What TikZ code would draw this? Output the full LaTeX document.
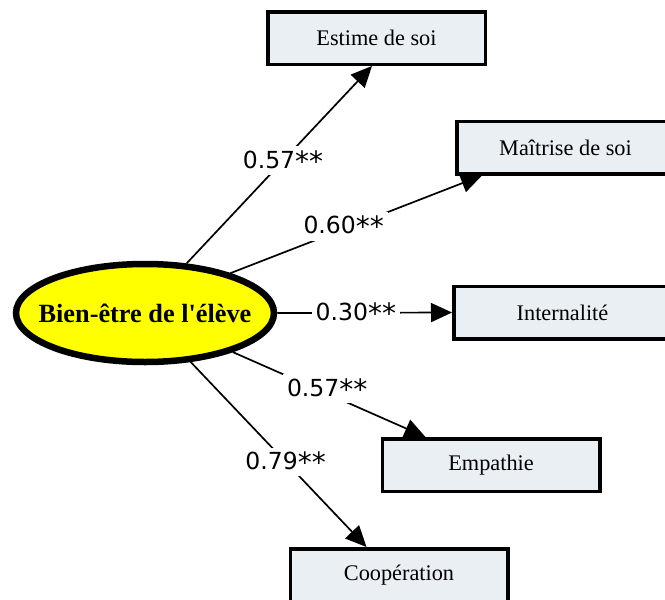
\documentclass[tikz,border=0pt]{standalone}
\usepackage{fontspec}
\setmainfont{Liberation Serif}
\newfontfamily\lblfont{DejaVu Sans}
\usetikzlibrary{arrows.meta,shapes.geometric}
\definecolor{boxfill}{HTML}{E9EFF3}
\definecolor{yel}{HTML}{FFFF00}
\newcommand{\stars}{\raisebox{-3pt}{\fontsize{28}{26}\selectfont **}}
\tikzset{
  x=1pt, y=-1pt,
  varbox/.style={draw=black, line width=3.5pt, fill=boxfill, minimum width=217.5pt,
    minimum height=52.5pt, inner sep=0pt, font=\fontsize{22.3}{24}\selectfont},
  bigell/.style={ellipse, draw=black, line width=6.5pt, fill=yel, minimum width=258pt,
    minimum height=98pt, inner sep=0pt},
  elltext/.style={font=\fontsize{26.3}{28}\selectfont\bfseries, inner sep=0pt},
  arr/.style={line width=1.7pt, -{Triangle[length=21pt,width=19pt]}},
  coef/.style={fill=white, inner sep=4pt, font=\lblfont\fontsize{23.5}{26}\selectfont}
}
\begin{document}
\begin{tikzpicture}
\clip (0,0) rectangle (665,600);
\fill[white] (0,0) rectangle (665,600);
\node[bigell] (e) at (145,313) {};
\node[elltext] (et) at (e.center) {Bien-être de l\textquotesingle élève};
\node[varbox] (est) at (376.5,38) {Estime de soi};
\node[varbox] (mai) at (565.5,147.5) {Maîtrise de soi};
\node[varbox] (int) at (562.5,312.5) {Internalité};
\node[varbox] (emp) at (491,465) {Empathie};
\node[varbox] (coop) at (399,575) {Coopération};
\draw[arr] (e.50) -- node[coef, pos=0.52] {0.57\stars} ([xshift=-4.5pt]est.south);
\draw[arr] (e.25) -- node[coef, pos=0.45, yshift=3pt] {0.60\stars} ([xshift=27pt]mai.south west);
\draw[arr] (e.east) -- node[coef, pos=0.45] {0.30\stars} (int.west);
\draw[arr] (e.-24) -- node[coef, pos=0.49, yshift=5pt] {0.57\stars} ([xshift=45pt]emp.north west);
\draw[arr] (e.-47) -- node[coef, pos=0.54] {0.79\stars} ([xshift=78pt]coop.north west);
\end{tikzpicture}
\end{document}
